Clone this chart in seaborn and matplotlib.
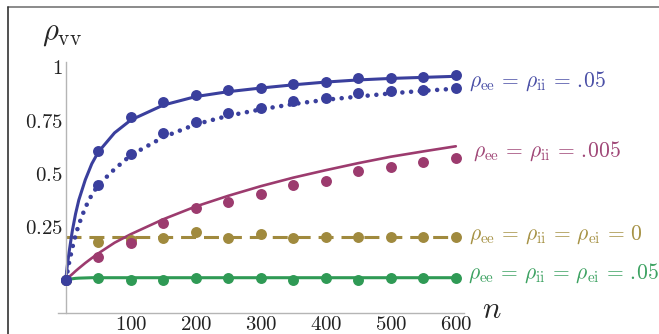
import matplotlib
matplotlib.use('Agg')
import matplotlib.pyplot as plt
from matplotlib.lines import Line2D
import pandas as pd
import seaborn as sns

# values
n_pts = [0, 50, 100, 150, 200, 250, 300, 350, 400, 450, 500, 550, 600]
blue_solid_pts = [0, 0.605, 0.763, 0.834, 0.869, 0.89, 0.898, 0.919, 0.926, 0.945, 0.945, 0.95, 0.96]
blue_dot_pts = [0, 0.445, 0.59, 0.69, 0.74, 0.784, 0.805, 0.84, 0.853, 0.875, 0.887, 0.89, 0.898]
magenta_pts = [0, 0.106, 0.172, 0.269, 0.336, 0.367, 0.403, 0.445, 0.466, 0.51, 0.531, 0.555, 0.57]
green_pts = [0, 0.008, 0.0, 0.0, 0.008, 0.008, 0.008, 0.0, 0.008, 0.0, 0.008, 0.008, 0.008]
olive_n = [50, 100, 150, 200, 250, 300, 350, 400, 450, 500, 550, 600]
olive_pts = [0.18, 0.19, 0.195, 0.223, 0.195, 0.216, 0.195, 0.203, 0.203, 0.203, 0.203, 0.203]

# theory curves
n_curve = [0, 2, 5, 10, 15, 20, 30, 40, 50, 75, 100, 150, 200, 250, 300, 350, 400, 450, 500, 550, 600]
blue_solid_curve = [0, 0.06, 0.13, 0.23, 0.31, 0.375, 0.47, 0.545, 0.60, 0.69, 0.75, 0.82, 0.86, 0.883,
                    0.90, 0.915, 0.928, 0.938, 0.945, 0.95, 0.955]
blue_dot_curve = [0, 0.03, 0.08, 0.15, 0.21, 0.26, 0.34, 0.40, 0.445, 0.52, 0.585, 0.67, 0.73, 0.77,
                  0.80, 0.825, 0.845, 0.86, 0.875, 0.887, 0.897]
magenta_curve = [0, 0.006, 0.015, 0.028, 0.042, 0.055, 0.08, 0.103, 0.125, 0.175, 0.215, 0.285, 0.345,
                 0.395, 0.44, 0.48, 0.515, 0.548, 0.578, 0.603, 0.627]
green_curve = [0, 0.002, 0.004, 0.006, 0.008, 0.009, 0.01, 0.011, 0.011, 0.011, 0.011, 0.011, 0.011,
               0.011, 0.011, 0.011, 0.011, 0.011, 0.011, 0.011, 0.011]
olive_line_n = [0, 600]
olive_line = [0.203, 0.203]

labels = [r'$\rho_{\rm ee}\,=\,\rho_{\rm ii}\,=\,.\!05$',
          r'$\rho_{\rm ee}\,=\,\rho_{\rm ii}\,=\,.\!005$',
          r'$\rho_{\rm ee}\,=\,\rho_{\rm ii}\,=\,\rho_{\rm ei}\,=\,0$',
          r'$\rho_{\rm ee}\,=\,\rho_{\rm ii}\,=\,\rho_{\rm ei}\,=\,.\!05$']

blue = '#3a3f9d'
magenta = '#9c3b6e'
olive = '#a08a3e'
green = '#2f9a55'

sns.set_style('white')
plt.rcParams['mathtext.fontset'] = 'cm'
plt.rcParams['font.family'] = ['DejaVu Serif']

fig = plt.figure(figsize=(6.59, 3.34), dpi=100)
ax = fig.add_axes([58 / 659, 1 - 312.7 / 334, (463.6 - 58) / 659, (312.7 - 62) / 334])

df_c = pd.DataFrame({'n': n_curve, 'bs': blue_solid_curve, 'bd': blue_dot_curve,
                     'm': magenta_curve, 'g': green_curve})
df_p = pd.DataFrame({'n': n_pts, 'bs': blue_solid_pts, 'bd': blue_dot_pts,
                     'm': magenta_pts, 'g': green_pts})
df_o = pd.DataFrame({'n': olive_n, 'o': olive_pts})

# curves
sns.lineplot(x='n', y='g', data=df_c, color=green, lw=2.2, ax=ax, zorder=2)
sns.lineplot(x=olive_line_n, y=olive_line, color=olive, lw=2.2, ax=ax, zorder=2,
             dashes=False, linestyle=(0, (4.9, 2.6)))
sns.lineplot(x='n', y='m', data=df_c, color=magenta, lw=1.9, ax=ax, zorder=2)
sns.lineplot(x='n', y='bd', data=df_c, color=blue, lw=3.3, ax=ax, zorder=2,
             linestyle=(0, (0.001, 1.9)), dash_capstyle='round')
sns.lineplot(x='n', y='bs', data=df_c, color=blue, lw=2.2, ax=ax, zorder=2)

# simulation points
sns.scatterplot(x='n', y='g', data=df_p, color=green, s=62, linewidth=0, ax=ax, zorder=3)
sns.scatterplot(x='n', y='o', data=df_o, color=olive, s=62, linewidth=0, ax=ax, zorder=3)
sns.scatterplot(x='n', y='m', data=df_p, color=magenta, s=62, linewidth=0, ax=ax, zorder=3)
sns.scatterplot(x='n', y='bd', data=df_p, color=blue, s=62, linewidth=0, ax=ax, zorder=4)
sns.scatterplot(x='n', y='bs', data=df_p, color=blue, s=62, linewidth=0, ax=ax, zorder=4)

ax.set_xlim(-12, 612)
ax.set_ylim(-0.153, 1.022)
ax.set_xlabel('')
ax.set_ylabel('')

for s in ['top', 'right']:
    ax.spines[s].set_visible(False)
ax.spines['left'].set_position(('data', 0))
for s in ['left', 'bottom']:
    ax.spines[s].set_color('#b5b5b5')
    ax.spines[s].set_linewidth(1.0)

ax.set_xticks([100, 200, 300, 400, 500, 600],
              labels=[r'$100$', r'$200$', r'$300$', r'$400$', r'$500$', r'$600$'])
ax.set_yticks([0.25, 0.5, 0.75, 1], labels=[r'$0.25$', r'$0.5$', r'$0.75$', r'$1$'])
ax.tick_params(direction='in', length=3.5, width=0.8, color='#b5b5b5',
               labelsize=15, labelcolor='#222222', pad=2)

# labels beside the curves
ax.text(621, 0.905, labels[0], color='#4a4fa6', fontsize=15.5, va='baseline', clip_on=False)
ax.text(626, 0.578, labels[1], color='#a04777', fontsize=15.5, va='baseline', clip_on=False)
ax.text(620, 0.188, labels[2], color='#a69245', fontsize=15.5, va='baseline', clip_on=False)
ax.text(618, 0.008, labels[3], color='#3da262', fontsize=15.5, va='baseline', clip_on=False)

ax.text(-37, 1.125, r'$\rho_{\rm vv}$', fontsize=22, va='baseline', clip_on=False)
ax.text(641, -0.18, r'$n$', fontsize=22, va='baseline', clip_on=False)

# frame of the screenshot
fig.add_artist(Line2D([8 / 659, 1], [1 - 7 / 334, 1 - 7 / 334], transform=fig.transFigure,
                      color='#777777', lw=1.2))
fig.add_artist(Line2D([8 / 659, 8 / 659], [0, 1 - 7 / 334], transform=fig.transFigure,
                      color='#333333', lw=1.2))

fig.savefig('out.png', dpi=100)
